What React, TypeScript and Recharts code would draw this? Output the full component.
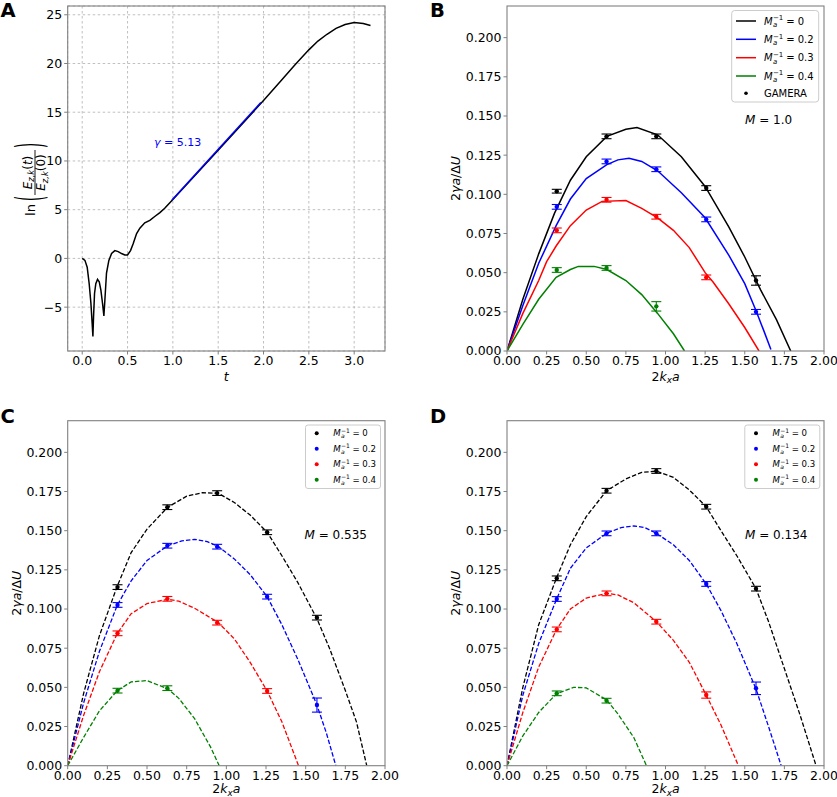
import React from 'react';
import { ComposedChart, Line, Scatter, ErrorBar, XAxis, YAxis, CartesianGrid } from 'recharts';

const FONT = 'DejaVu Sans';
const FRAME = '#808080';
const BLACK = '#000000';
const BLUE = '#0000ff';
const RED = '#ff0000';
const GREEN = '#008000';

// ---- panel A: ln(E(t)/E(0)) vs t
const tA = [0, 0.03, 0.055, 0.077, 0.096, 0.11, 0.118, 0.125, 0.136, 0.15, 0.169, 0.188, 0.206, 0.224, 0.239, 0.25, 0.268, 0.294, 0.324, 0.36, 0.397, 0.434, 0.47, 0.5, 0.533, 0.562, 0.6, 0.636, 0.69, 0.746, 0.8, 0.857, 0.91, 1.0, 1.5, 2.0, 2.2, 2.35, 2.5, 2.6, 2.7, 2.8, 2.9, 3.0, 3.1, 3.18];
const lnA = [0, -0.2, -0.9, -2.6, -4.6, -6.7, -8.0, -6.0, -3.6, -2.6, -2.15, -2.4, -3.25, -4.6, -5.9, -4.3, -1.5, -0.2, 0.5, 0.8, 0.7, 0.5, 0.35, 0.35, 0.8, 1.5, 2.55, 3.1, 3.65, 3.9, 4.3, 4.7, 5.15, 6.05, 11.1, 16.2, 18.3, 19.9, 21.4, 22.3, 23.0, 23.6, 24.0, 24.2, 24.1, 23.9];
const tFit = [0.99, 1.97];
const lnFit = [6.0, 16.0];
const tTicksA = [0, 0.5, 1, 1.5, 2, 2.5, 3];
const lnTicksA = [-5, 0, 5, 10, 15, 20, 25];

// ---- panels B-D: growth rate vs 2 k_x a
const kTicks = [0, 0.25, 0.5, 0.75, 1, 1.25, 1.5, 1.75, 2];
const gTicks = [0, 0.025, 0.05, 0.075, 0.1, 0.125, 0.15, 0.175, 0.2];
const kPts = [0.314, 0.628, 0.942, 1.257, 1.571];
const invMa = ['0', '0.2', '0.3', '0.4'];

// B, M = 1.0 (solid lines)
const kB0 = [0, 0.1, 0.2, 0.3, 0.4, 0.5, 0.63, 0.75, 0.82, 0.95, 1.1, 1.25, 1.4, 1.5, 1.6, 1.7, 1.79];
const gB0 = [0, 0.033, 0.062, 0.088, 0.109, 0.124, 0.137, 0.1415, 0.1426, 0.138, 0.124, 0.105, 0.079, 0.06, 0.039, 0.02, 0];
const kB1 = [0, 0.1, 0.2, 0.31, 0.4, 0.5, 0.63, 0.7, 0.77, 0.85, 0.95, 1.1, 1.25, 1.4, 1.5, 1.57, 1.62, 1.665];
const gB1 = [0, 0.029, 0.056, 0.08, 0.097, 0.11, 0.119, 0.122, 0.123, 0.121, 0.115, 0.101, 0.085, 0.061, 0.043, 0.026, 0.013, 0.001];
const kB2 = [0, 0.1, 0.2, 0.25, 0.31, 0.4, 0.5, 0.6, 0.75, 0.85, 0.95, 1.05, 1.15, 1.25, 1.3, 1.4, 1.5, 1.59];
const gB2 = [0, 0.024, 0.045, 0.057, 0.067, 0.08, 0.09, 0.0955, 0.096, 0.091, 0.085, 0.077, 0.066, 0.05, 0.044, 0.03, 0.015, 0];
const kB3 = [0, 0.1, 0.2, 0.31, 0.4, 0.45, 0.55, 0.63, 0.75, 0.85, 0.95, 1.05, 1.12];
const gB3 = [0, 0.017, 0.033, 0.047, 0.052, 0.054, 0.054, 0.052, 0.045, 0.036, 0.024, 0.011, 0];
const ptsB0 = [0.102, 0.137, 0.137, 0.104, 0.045];
const errB0 = [0.0012, 0.0015, 0.0015, 0.0015, 0.003];
const ptsB1 = [0.092, 0.121, 0.116, 0.084, 0.025];
const errB1 = [0.0015, 0.0015, 0.0015, 0.0015, 0.0015];
const ptsB2 = [0.077, 0.0965, 0.0857, 0.047];
const errB2 = [0.0015, 0.0015, 0.0015, 0.0015];
const ptsB3 = [0.0517, 0.053, 0.0285];
const errB3 = [0.0015, 0.0015, 0.003];

// C, M = 0.535 (dashed)
const kC0 = [0, 0.1, 0.2, 0.31, 0.4, 0.5, 0.63, 0.75, 0.85, 0.95, 1.05, 1.15, 1.257, 1.35, 1.45, 1.57, 1.65, 1.75, 1.82, 1.885];
const gC0 = [0, 0.046, 0.083, 0.114, 0.136, 0.151, 0.165, 0.172, 0.1743, 0.1738, 0.168, 0.16, 0.149, 0.134, 0.117, 0.094, 0.075, 0.048, 0.028, 0];
const kC1 = [0, 0.1, 0.2, 0.313, 0.4, 0.5, 0.63, 0.72, 0.8, 0.88, 0.95, 1.05, 1.15, 1.257, 1.35, 1.45, 1.57, 1.63, 1.69];
const gC1 = [0, 0.04, 0.073, 0.1026, 0.118, 0.131, 0.1404, 0.1435, 0.1445, 0.143, 0.1398, 0.132, 0.122, 0.1079, 0.09, 0.068, 0.039, 0.021, 0];
const kC2 = [0, 0.1, 0.2, 0.313, 0.4, 0.5, 0.63, 0.7, 0.8, 0.95, 1.05, 1.15, 1.257, 1.35, 1.455];
const gC2 = [0, 0.032, 0.06, 0.0845, 0.097, 0.1035, 0.1062, 0.105, 0.1005, 0.0913, 0.081, 0.066, 0.0477, 0.028, 0];
const kC3 = [0, 0.1, 0.2, 0.313, 0.4, 0.5, 0.63, 0.7, 0.8, 0.9, 0.955];
const gC3 = [0, 0.018, 0.035, 0.0479, 0.0535, 0.0543, 0.0491, 0.043, 0.03, 0.012, 0];
const ptsC0 = [0.114, 0.165, 0.174, 0.149, 0.0945];
const errC0 = [0.0015, 0.0015, 0.0015, 0.0015, 0.0015];
const ptsC1 = [0.1026, 0.1404, 0.1398, 0.1079, 0.0387];
const errC1 = [0.0015, 0.0015, 0.0015, 0.0015, 0.0045];
const ptsC2 = [0.0845, 0.1065, 0.0913, 0.0477];
const errC2 = [0.0015, 0.0015, 0.0015, 0.0015];
const ptsC3 = [0.0479, 0.0495];
const errC3 = [0.0015, 0.0015];

// D, M = 0.134 (dashed)
const kD0 = [0, 0.1, 0.2, 0.313, 0.4, 0.5, 0.628, 0.75, 0.85, 0.942, 1.05, 1.15, 1.257, 1.35, 1.45, 1.571, 1.65, 1.75, 1.85, 1.95];
const gD0 = [0, 0.05, 0.09, 0.12, 0.141, 0.159, 0.1755, 0.183, 0.1872, 0.188, 0.184, 0.176, 0.1653, 0.15, 0.134, 0.113, 0.092, 0.062, 0.032, 0];
const kD1 = [0, 0.1, 0.2, 0.313, 0.4, 0.5, 0.628, 0.72, 0.8, 0.87, 0.942, 1.05, 1.15, 1.257, 1.35, 1.45, 1.571, 1.65, 1.73];
const gD1 = [0, 0.045, 0.078, 0.1064, 0.126, 0.139, 0.1483, 0.152, 0.153, 0.152, 0.1483, 0.141, 0.131, 0.116, 0.099, 0.078, 0.049, 0.025, 0];
const kD2 = [0, 0.1, 0.2, 0.313, 0.4, 0.5, 0.628, 0.7, 0.8, 0.942, 1.05, 1.15, 1.257, 1.35, 1.46];
const gD2 = [0, 0.034, 0.063, 0.087, 0.1, 0.107, 0.11, 0.109, 0.104, 0.092, 0.08, 0.066, 0.045, 0.026, 0];
const kD3 = [0, 0.1, 0.2, 0.313, 0.42, 0.5, 0.628, 0.7, 0.8, 0.88];
const gD3 = [0, 0.019, 0.034, 0.046, 0.05, 0.0497, 0.042, 0.033, 0.018, 0];
const ptsD0 = [0.1196, 0.1755, 0.1881, 0.1653, 0.113];
const errD0 = [0.0015, 0.0015, 0.0015, 0.0015, 0.0015];
const ptsD1 = [0.1064, 0.1483, 0.1483, 0.116, 0.0494];
const errD1 = [0.0015, 0.0015, 0.0015, 0.0015, 0.004];
const ptsD2 = [0.087, 0.11, 0.0919, 0.0451];
const errD2 = [0.0015, 0.0015, 0.0015, 0.002];
const ptsD3 = [0.0462, 0.0415];
const errD3 = [0.0015, 0.0015];

const COLORS = [BLACK, BLUE, RED, GREEN];

const toLine = (xs: number[], ys: number[]) => xs.map((x, i) => ({ x, y: ys[i] }));
const toPts = (ys: number[], errs: number[]) => ys.map((y, i) => ({ x: kPts[i], y, err: errs[i] }));

const tickStyle = { fill: '#000', fontSize: 12.5, fontFamily: FONT };

type Rect = { l: number; t: number; r: number; b: number };

// plot rectangles in page coordinates
const PA: Rect = { l: 67.7, t: 6, r: 385, b: 351 };
const PB: Rect = { l: 507, t: 6, r: 824, b: 351 };
const PC: Rect = { l: 67.7, t: 420.7, r: 385, b: 765.7 };
const PD: Rect = { l: 507, t: 420.7, r: 824, b: 765.7 };

function PanelA() {
  const data = toLine(tA, lnA);
  const fit = toLine(tFit, lnFit);
  const w = 420, h = 400;
  return (
    <div style={{ position: 'absolute', left: 0, top: 0 }}>
      <ComposedChart width={w} height={h} margin={{ top: PA.t, right: w - PA.r, bottom: h - PA.b - 30, left: 0 }}>
        <CartesianGrid stroke="#b0b0b0" strokeDasharray="2.5 2.5" strokeWidth={0.8} />
        <XAxis type="number" dataKey="x" domain={[-0.16, 3.34]} ticks={tTicksA} interval={0}
          tickFormatter={(v: number) => v.toFixed(1)} height={30} axisLine={false}
          tickLine={{ stroke: FRAME }} tickSize={3.5} tick={tickStyle} allowDataOverflow />
        <YAxis type="number" domain={[-9.5, 25.9]} ticks={lnTicksA} interval={0}
          tickFormatter={(v: number) => (v < 0 ? '\u2212' + Math.abs(v) : String(v))}
          width={PA.l} axisLine={false} tickLine={{ stroke: FRAME }} tickSize={3.5} tick={tickStyle} allowDataOverflow />
        <Line data={data} dataKey="y" type="linear" stroke={BLACK} strokeWidth={1.5} dot={false} isAnimationActive={false} />
        <Line data={fit} dataKey="y" type="linear" stroke={BLUE} strokeWidth={1.4} dot={false} isAnimationActive={false} />
      </ComposedChart>
    </div>
  );
}

type Series = { k: number[]; g: number[] };
type PtSeries = { g: number[]; e: number[] };

function GrowthPanel({ x, y, w, h, p, curves, pts, dashed }: {
  x: number; y: number; w: number; h: number; p: Rect; curves: Series[]; pts: PtSeries[]; dashed: boolean;
}) {
  return (
    <div style={{ position: 'absolute', left: x, top: y }}>
      <ComposedChart width={w} height={h} margin={{ top: p.t - y, right: x + w - p.r, bottom: y + h - p.b - 30, left: 0 }}>
        <XAxis type="number" dataKey="x" domain={[0, 2]} ticks={kTicks} interval={0}
          tickFormatter={(v: number) => v.toFixed(2)} height={30} axisLine={false}
          tickLine={{ stroke: FRAME }} tickSize={3.5} tick={tickStyle} allowDataOverflow />
        <YAxis type="number" domain={[0, 0.2202]} ticks={gTicks} interval={0}
          tickFormatter={(v: number) => v.toFixed(3)} width={p.l - x} axisLine={false}
          tickLine={{ stroke: FRAME }} tickSize={3.5} tick={tickStyle} allowDataOverflow />
        {curves.map((c, i) => (
          <Line key={'c' + i} data={toLine(c.k, c.g)} dataKey="y" type="linear" stroke={COLORS[i]}
            strokeWidth={dashed ? 1.3 : 1.5} strokeDasharray={dashed ? '4.5 2' : undefined}
            dot={false} isAnimationActive={false} />
        ))}
        {pts.map((s, i) => (
          <Scatter key={'p' + i} data={toPts(s.g, s.e)} dataKey="y" fill={COLORS[i]} isAnimationActive={false}
            shape={(props: any) => <circle cx={props.cx} cy={props.cy} r={2.2} fill={COLORS[i]} />}>
            <ErrorBar dataKey="err" direction="y" width={5} stroke={COLORS[i]} strokeWidth={1.1} isAnimationActive={false} />
          </Scatter>
        ))}
      </ComposedChart>
    </div>
  );
}

function Ma({ x, y, v, fs }: { x: number; y: number; v: string; fs: number }) {
  return (
    <g fontFamily={FONT} fill="#000">
      <text x={x} y={y} fontSize={fs} fontStyle="italic">M</text>
      <text x={x + 0.9 * fs} y={y - 0.42 * fs} fontSize={0.7 * fs}>{'\u22121'}</text>
      <text x={x + 0.9 * fs} y={y + 0.24 * fs} fontSize={0.7 * fs} fontStyle="italic">a</text>
      <text x={x + 2.22 * fs} y={y} fontSize={fs}>{'= ' + v}</text>
    </g>
  );
}

function KLabel({ cx, y }: { cx: number; y: number }) {
  return (
    <text x={cx} y={y} textAnchor="middle" fontSize={12.5} fontFamily={FONT}>
      <tspan>2</tspan>
      <tspan fontStyle="italic">k</tspan>
      <tspan fontStyle="italic" fontSize={8.8} dy={2.5}>x</tspan>
      <tspan fontStyle="italic" dy={-2.5}>a</tspan>
    </text>
  );
}

function GLabel({ x, cy }: { x: number; cy: number }) {
  return (
    <text transform={`translate(${x},${cy}) rotate(-90)`} textAnchor="middle" fontSize={12.5} fontFamily={FONT}>
      <tspan>2</tspan>
      <tspan fontStyle="italic">{'\u03b3a'}</tspan>
      <tspan>{'/\u0394'}</tspan>
      <tspan fontStyle="italic">U</tspan>
    </text>
  );
}

function Frame({ p }: { p: Rect }) {
  return <rect x={p.l} y={p.t} width={p.r - p.l} height={p.b - p.t} fill="none" stroke={FRAME} strokeWidth={1.1} />;
}

function LegendLines() {
  const cys = [21, 39.3, 57.7, 76];
  return (
    <g>
      <rect x={731.7} y={10.5} width={87} height={91.5} rx={3} fill="#fff" fillOpacity={0.85} stroke="#cccccc" strokeWidth={1} />
      {cys.map((cy, i) => (
        <g key={i}>
          <line x1={736} x2={756} y1={cy} y2={cy} stroke={COLORS[i]} strokeWidth={1.5} />
          <Ma x={764} y={cy + 3.6} v={invMa[i]} fs={10} />
        </g>
      ))}
      <circle cx={746} cy={93.3} r={1.8} fill={BLACK} />
      <text x={764} y={96.9} fontSize={10} fontFamily={FONT}>GAMERA</text>
    </g>
  );
}

function LegendDots({ dx }: { dx: number }) {
  return (
    <g transform={`translate(${dx},0)`}>
      <rect x={305.5} y={425} width={75} height={63.5} rx={2.5} fill="#fff" fillOpacity={0.85} stroke="#cccccc" strokeWidth={1} />
      {invMa.map((v, i) => {
        const cy = 433.3 + i * 15.5;
        return (
          <g key={i}>
            <circle cx={316.7} cy={cy} r={2} fill={COLORS[i]} />
            <Ma x={333.3} y={cy + 3.1} v={v} fs={8.6} />
          </g>
        );
      })}
    </g>
  );
}

function MText({ x, y, v }: { x: number; y: number; v: string }) {
  return (
    <text x={x} y={y} fontSize={12} fontFamily={FONT}>
      <tspan fontStyle="italic">M</tspan>
      <tspan>{' = ' + v}</tspan>
    </text>
  );
}

function LnLabel() {
  // ln( E_zk(t) / E_zk(0) ), rotated
  return (
    <g transform="translate(34.5,180) rotate(-90)" fontFamily={FONT} fill="#000">
      <text x={-30} y={0} textAnchor="middle" fontSize={13}>ln</text>
      <g transform="translate(-18.5,-4.5) scale(1,2.9)">
        <text x={0} y={4.1} textAnchor="middle" fontSize={13}>(</text>
      </g>
      <text x={7.5} y={-3} textAnchor="middle" fontSize={12}>
        <tspan fontStyle="italic">E</tspan>
        <tspan fontStyle="italic" fontSize={8.4} dy={2.5}>z,k</tspan>
        <tspan dy={-2.5}>(</tspan>
        <tspan fontStyle="italic">t</tspan>
        <tspan>)</tspan>
      </text>
      <line x1={-15} x2={30} y1={0.5} y2={0.5} stroke="#000" strokeWidth={0.9} />
      <text x={7.5} y={10.5} textAnchor="middle" fontSize={12}>
        <tspan fontStyle="italic">E</tspan>
        <tspan fontStyle="italic" fontSize={8.4} dy={2.5}>z,k</tspan>
        <tspan dy={-2.5}>(0)</tspan>
      </text>
      <g transform="translate(34.5,-4.5) scale(1,2.9)">
        <text x={0} y={4.1} textAnchor="middle" fontSize={13}>)</text>
      </g>
    </g>
  );
}

function Overlay() {
  return (
    <svg width={837} height={797} style={{ position: 'absolute', left: 0, top: 0, pointerEvents: 'none' }}>
      <Frame p={PA} />
      <Frame p={PB} />
      <Frame p={PC} />
      <Frame p={PD} />
      <g fontFamily={FONT} fontWeight="bold" fontSize={19.5}>
        <text x={0.5} y={16.5}>A</text>
        <text x={430} y={16.5}>B</text>
        <text x={0.5} y={423.3}>C</text>
        <text x={430} y={423.3}>D</text>
      </g>
      <text x={226.3} y={380.5} textAnchor="middle" fontSize={12.5} fontFamily={FONT} fontStyle="italic">t</text>
      <LnLabel />
      <text x={154} y={145.7} fontSize={11} fontFamily={FONT} fill={BLUE}>
        <tspan fontStyle="italic">{'\u03b3'}</tspan>
        <tspan>{' = 5.13'}</tspan>
      </text>
      <KLabel cx={665.5} y={380.5} />
      <KLabel cx={226.3} y={793.3} />
      <KLabel cx={665.5} y={793.3} />
      <GLabel x={460} cy={178.5} />
      <GLabel x={20.7} cy={593.2} />
      <GLabel x={460} cy={593.2} />
      <LegendLines />
      <LegendDots dx={0} />
      <LegendDots dx={439.3} />
      <MText x={745} y={124} v="1.0" />
      <MText x={304.5} y={538.5} v="0.535" />
      <MText x={745} y={538.5} v="0.134" />
    </svg>
  );
}

export default function App() {
  const curvesB = [{ k: kB0, g: gB0 }, { k: kB1, g: gB1 }, { k: kB2, g: gB2 }, { k: kB3, g: gB3 }];
  const ptsB = [{ g: ptsB0, e: errB0 }, { g: ptsB1, e: errB1 }, { g: ptsB2, e: errB2 }, { g: ptsB3, e: errB3 }];
  const curvesC = [{ k: kC0, g: gC0 }, { k: kC1, g: gC1 }, { k: kC2, g: gC2 }, { k: kC3, g: gC3 }];
  const ptsC = [{ g: ptsC0, e: errC0 }, { g: ptsC1, e: errC1 }, { g: ptsC2, e: errC2 }, { g: ptsC3, e: errC3 }];
  const curvesD = [{ k: kD0, g: gD0 }, { k: kD1, g: gD1 }, { k: kD2, g: gD2 }, { k: kD3, g: gD3 }];
  const ptsD = [{ g: ptsD0, e: errD0 }, { g: ptsD1, e: errD1 }, { g: ptsD2, e: errD2 }, { g: ptsD3, e: errD3 }];

  return (
    <div style={{ position: 'absolute', left: 0, top: 0, width: 837, height: 797, background: '#fff', overflow: 'hidden', fontFamily: FONT }}>
      <PanelA />
      <GrowthPanel x={420} y={0} w={417} h={400} p={PB} curves={curvesB} pts={ptsB} dashed={false} />
      <GrowthPanel x={0} y={400} w={420} h={397} p={PC} curves={curvesC} pts={ptsC} dashed />
      <GrowthPanel x={420} y={400} w={417} h={397} p={PD} curves={curvesD} pts={ptsD} dashed />
      <Overlay />
    </div>
  );
}
